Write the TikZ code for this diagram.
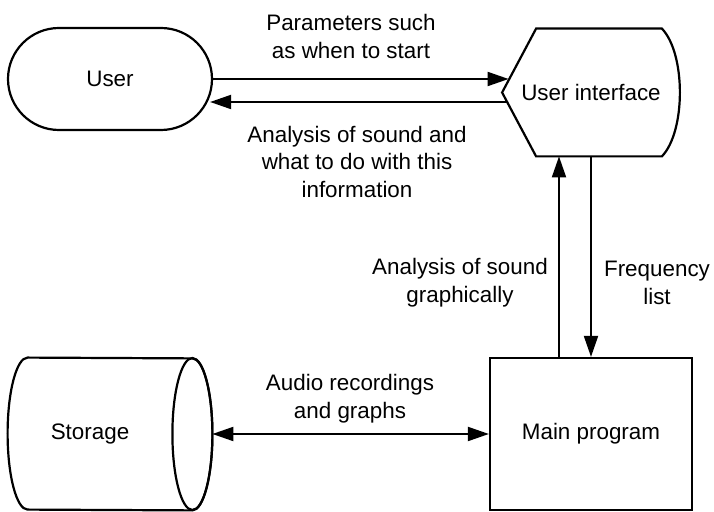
\documentclass[tikz,border=0pt]{standalone}
\usepackage{fontspec}
\setmainfont{Liberation Sans}
\usetikzlibrary{arrows.meta,calc}

\begin{document}
\begin{tikzpicture}[>={Triangle[length=10.5pt,width=7pt]},x=0.5pt,y=-0.5pt,
  every node/.style={font=\fontsize{11.2}{14}\selectfont},
  box/.style={draw,line width=1.1pt,align=center},
  flow/.style={->,line width=1pt},
  lbl/.style={align=center}]
  \useasboundingbox (0,0) rectangle (714,512);
  % blocks
  \node[box,rounded corners=25.5pt,minimum width=102pt,minimum height=51pt] (user) at (110,79) {User};
  \node[minimum width=88.5pt,minimum height=63.5pt] (ui) at (591,92.5) {User interface};
  \draw[line width=1.1pt] (ui.west) -- ($(ui.north west)+(34,0)$) -- ($(ui.north east)+(-18,0)$)
    .. controls ($(ui.north east)+(6,25)$) and ($(ui.south east)+(6,-25)$) .. ($(ui.south east)+(-18,0)$)
    -- ($(ui.south west)+(34,0)$) -- cycle;
  \node[minimum width=82pt,minimum height=76pt] (store) at (90,434) {Storage};
  \draw[line width=1.1pt] ($(store.north west)+(20,0)$) arc[start angle=90,end angle=270,x radius=10pt,y radius=38pt]
    -- ($(store.south east)+(20,0)$) arc[start angle=-90,end angle=90,x radius=10pt,y radius=38pt] -- cycle;
  \draw[line width=1.1pt] ($(store.east)+(20,0)$) ellipse[x radius=10pt,y radius=38pt];
  \coordinate (storeend) at ($(store.east)+(40,0)$);
  \node[box,minimum width=101pt,minimum height=76pt] (main) at (591,434) {Main program};
  % ends on the slanted side of the interface
  \coordinate (uiin) at ($(ui.west)+(6.5,-13.5)$);
  \coordinate (uiout) at ($(ui.west)+(5,9.5)$);
  % flows
  \draw[flow] (user.east) -- (uiin);
  \draw[flow] (uiout) -- ($(uiout -| user.east)+(-3,0)$);
  \draw[flow] ($(main.north)+(-32,0)$) -- ($(ui.south)+(-32,0)$);
  \draw[flow] (ui.south) -- (main.north);
  \draw[flow,<->] (storeend) -- (main.west);
  % labels
  \node[lbl] (params) at (351,37) {Parameters such\\as when to start};
  \node[lbl] (answer) at (357,162) {Analysis of sound and\\what to do with this\\information};
  \node[lbl] (graph) at (460,283) {Analysis of sound\\graphically};
  \node[lbl] (freq) at (657,283) {Frequency\\list};
  \node[lbl] (audio) at (350,399) {Audio recordings\\and graphs};
\end{tikzpicture}
\end{document}
